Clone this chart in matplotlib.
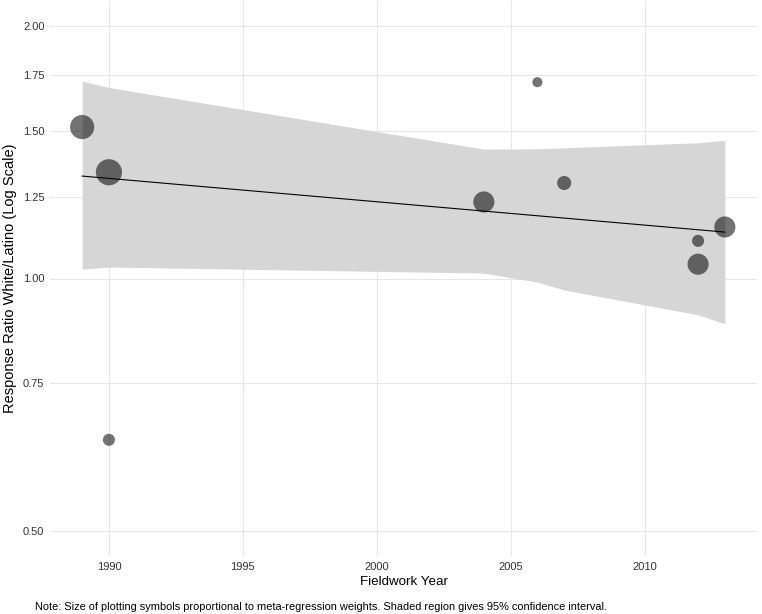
import numpy as np
from matplotlib import pyplot as plt
from matplotlib.ticker import FixedLocator, NullLocator, FixedFormatter

plt.rcParams['font.family'] = ['Liberation Sans', 'DejaVu Sans']

# studies: fieldwork year, response ratio, relative meta-regression weight
years = [1989, 1990, 1990, 2004, 2006, 2007, 2012, 2012, 2013]
ratios = [1.516, 1.339, 0.642, 1.234, 1.715, 1.30, 1.109, 1.040, 1.152]
weights = [144, 169, 36, 110, 25, 49, 36, 110, 110]

# fitted meta-regression line and 95% CI band
fit_years = [1989, 2013]
fit_vals = [1.325, 1.136]
band_years = [1989, 1990, 2004, 2006, 2007, 2012, 2013]
band_upper = [1.72, 1.69, 1.427, 1.428, 1.432, 1.452, 1.462]
band_lower = [1.026, 1.032, 1.015, 0.990, 0.969, 0.905, 0.883]

y_ticks = [0.50, 0.75, 1.00, 1.25, 1.50, 1.75, 2.00]
x_ticks = [1990, 1995, 2000, 2005, 2010]


def main():
    fig = plt.figure(figsize=(7.62, 6.14), dpi=100)
    ax = fig.add_axes([50 / 762, 1 - 556 / 614, 707 / 762, 555 / 614])

    ax.fill_between(band_years, band_lower, band_upper, color='#d6d6d6', lw=0, zorder=2)
    ax.plot(fit_years, fit_vals, color='black', lw=0.8, zorder=3)
    sizes = np.array(weights) * 2.1
    ax.scatter(years, ratios, s=sizes, color='black', alpha=0.55, lw=0, zorder=4)

    ax.set_yscale('log')
    ax.set_ylim(0.5 * np.exp(-0.0693), 2.0 * np.exp(0.0693))
    ax.set_xlim(1987.8, 2014.2)
    ax.yaxis.set_major_locator(FixedLocator(y_ticks))
    ax.yaxis.set_major_formatter(FixedFormatter([f'{v:.2f}' for v in y_ticks]))
    ax.yaxis.set_minor_locator(NullLocator())
    ax.xaxis.set_major_locator(FixedLocator(x_ticks))
    ax.xaxis.set_minor_locator(NullLocator())

    ax.grid(True, color='#e6e6e6', lw=0.8, zorder=0)
    ax.set_axisbelow(True)
    for s in ax.spines.values():
        s.set_visible(False)
    ax.tick_params(length=0, labelsize=8, labelcolor='#333333', pad=4)

    ax.set_xlabel('Fieldwork Year', fontsize=9.6, labelpad=3)
    ax.set_ylabel('Response Ratio White/Latino (Log Scale)', fontsize=10.5, labelpad=4)

    fig.text(35 / 762, 1 - 607 / 614,
             'Note: Size of plotting symbols proportional to meta-regression weights. '
             'Shaded region gives 95% confidence interval.',
             fontsize=7.9, va='center', ha='left')

    fig.savefig('out.png', dpi=100)


if __name__ == "__main__":
    main()
